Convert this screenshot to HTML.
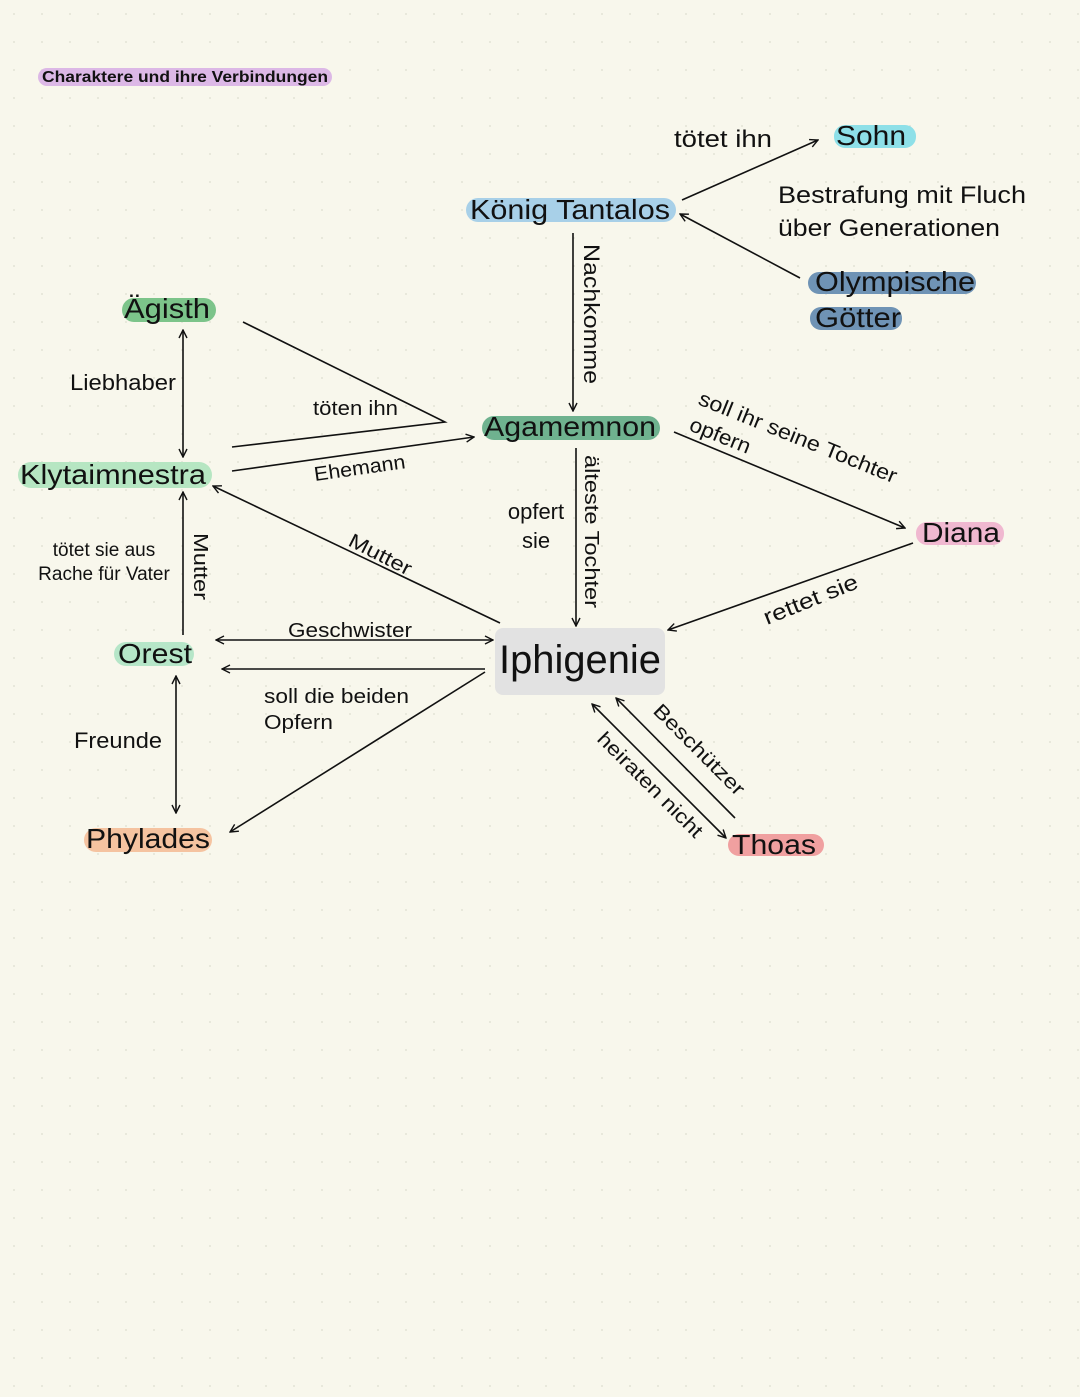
<!DOCTYPE html>
<html><head><meta charset="utf-8"><style>
html,body{margin:0;padding:0;background:#f8f7ec;}
svg{display:block;font-family:"Liberation Sans",Arial,sans-serif;}
</style></head><body>
<svg width="1080" height="1397" viewBox="0 0 1080 1397" xmlns="http://www.w3.org/2000/svg">
<defs>
<pattern id="dots" width="28" height="28" patternUnits="userSpaceOnUse"><circle cx="14" cy="14" r="0.9" fill="#dcdccf"/></pattern>
<marker id="a" viewBox="0 0 10 10" refX="9" refY="5" markerWidth="10" markerHeight="10" markerUnits="userSpaceOnUse" orient="auto-start-reverse"><path d="M1,1 L9,5 L1,9" fill="none" stroke="#111" stroke-width="1.4"/></marker>
</defs>
<rect width="1080" height="1397" fill="#f8f7ec"/>
<rect width="1080" height="1397" fill="url(#dots)"/>

<!-- highlights -->
<g>
<rect x="38" y="68" width="294" height="18" rx="9" fill="#dcb8e6"/>
<rect x="834" y="125" width="82" height="23" rx="11" fill="#8ee0e8"/>
<rect x="466" y="198" width="210" height="24" rx="12" fill="#a8d0e8"/>
<rect x="808" y="272" width="168" height="22" rx="11" fill="#6f93b5"/>
<rect x="810" y="307" width="92" height="23" rx="11" fill="#6f93b5"/>
<rect x="122" y="298" width="94" height="24" rx="12" fill="#7cc48a"/>
<rect x="482" y="416" width="178" height="24" rx="12" fill="#6fb28f"/>
<rect x="18" y="462" width="194" height="26" rx="13" fill="#b6e6c2"/>
<rect x="916" y="522" width="88" height="23" rx="11" fill="#f0b8d0"/>
<rect x="114" y="642" width="80" height="24" rx="12" fill="#b6e6c8"/>
<rect x="84" y="828" width="128" height="24" rx="12" fill="#f5c3a0"/>
<rect x="728" y="834" width="96" height="22" rx="11" fill="#f0a0a0"/>
<rect x="495" y="628" width="170" height="67" rx="8" fill="#e2e2e2"/>
</g>

<!-- lines -->
<g stroke="#111" stroke-width="1.6" fill="none">
<line x1="682" y1="200" x2="818" y2="140" marker-end="url(#a)"/>
<line x1="800" y1="278" x2="680" y2="214" marker-end="url(#a)"/>
<line x1="573" y1="233" x2="573" y2="411" marker-end="url(#a)"/>
<polyline points="243,322 445,422 232,447"/>
<line x1="232" y1="471" x2="474" y2="437" marker-end="url(#a)"/>
<line x1="183" y1="330" x2="183" y2="457" marker-start="url(#a)" marker-end="url(#a)"/>
<line x1="674" y1="432" x2="905" y2="528" marker-end="url(#a)"/>
<line x1="913" y1="543" x2="668" y2="630" marker-end="url(#a)"/>
<line x1="576" y1="448" x2="576" y2="626" marker-end="url(#a)"/>
<line x1="500" y1="623" x2="213" y2="486" marker-end="url(#a)"/>
<line x1="183" y1="635" x2="183" y2="492" marker-end="url(#a)"/>
<line x1="216" y1="640" x2="493" y2="640" marker-start="url(#a)" marker-end="url(#a)"/>
<line x1="485" y1="669" x2="222" y2="669" marker-end="url(#a)"/>
<line x1="485" y1="672" x2="230" y2="832" marker-end="url(#a)"/>
<line x1="176" y1="676" x2="176" y2="813" marker-start="url(#a)" marker-end="url(#a)"/>
<line x1="735" y1="818" x2="616" y2="698" marker-end="url(#a)"/>
<line x1="592" y1="704" x2="726" y2="838" marker-start="url(#a)" marker-end="url(#a)"/>
</g>

<!-- text -->
<g fill="#111">
<text x="42" y="82" font-size="16" font-weight="bold" textLength="286" lengthAdjust="spacingAndGlyphs">Charaktere und ihre Verbindungen</text>
<text x="836" y="145" font-size="28" textLength="70" lengthAdjust="spacingAndGlyphs">Sohn</text>
<text x="674" y="147" font-size="24" textLength="98" lengthAdjust="spacingAndGlyphs">tötet ihn</text>
<text x="778" y="203" font-size="24" textLength="248" lengthAdjust="spacingAndGlyphs">Bestrafung mit Fluch</text>
<text x="778" y="236" font-size="24" textLength="222" lengthAdjust="spacingAndGlyphs">über Generationen</text>
<text x="470" y="219" font-size="28" textLength="200" lengthAdjust="spacingAndGlyphs">König Tantalos</text>
<text x="815" y="291" font-size="28" textLength="160" lengthAdjust="spacingAndGlyphs">Olympische</text>
<text x="815" y="327" font-size="28" textLength="86" lengthAdjust="spacingAndGlyphs">Götter</text>
<text x="124" y="318" font-size="28" textLength="86" lengthAdjust="spacingAndGlyphs">Ägisth</text>
<text x="70" y="390" font-size="22" textLength="106" lengthAdjust="spacingAndGlyphs">Liebhaber</text>
<text x="313" y="415" font-size="20" textLength="85" lengthAdjust="spacingAndGlyphs">töten ihn</text>
<text x="315" y="481" font-size="20" transform="rotate(-8 315 481)" textLength="92" lengthAdjust="spacingAndGlyphs">Ehemann</text>
<text x="484" y="436" font-size="28" textLength="172" lengthAdjust="spacingAndGlyphs">Agamemnon</text>
<text x="20" y="484" font-size="28" textLength="186" lengthAdjust="spacingAndGlyphs">Klytaimnestra</text>
<text x="584" y="244" font-size="22" transform="rotate(90 584 244)" textLength="140" lengthAdjust="spacingAndGlyphs">Nachkomme</text>
<text x="585" y="455" font-size="20" transform="rotate(90 585 455)" textLength="153" lengthAdjust="spacingAndGlyphs">älteste Tochter</text>
<text x="536" y="519" font-size="22" text-anchor="middle">opfert</text>
<text x="536" y="548" font-size="22" text-anchor="middle">sie</text>
<text x="697" y="404" font-size="21" transform="rotate(22 697 404)" textLength="212" lengthAdjust="spacingAndGlyphs">soll ihr seine Tochter</text>
<text x="688" y="430" font-size="21" transform="rotate(22 688 430)" textLength="64" lengthAdjust="spacingAndGlyphs">opfern</text>
<text x="922" y="542" font-size="28" textLength="78" lengthAdjust="spacingAndGlyphs">Diana</text>
<text x="767" y="625" font-size="22" transform="rotate(-22 767 625)" textLength="100" lengthAdjust="spacingAndGlyphs">rettet sie</text>
<text x="347" y="545" font-size="20" transform="rotate(27 347 545)" textLength="68" lengthAdjust="spacingAndGlyphs">Mutter</text>
<text x="104" y="556" font-size="19" text-anchor="middle">tötet sie aus</text>
<text x="104" y="580" font-size="19" text-anchor="middle">Rache für Vater</text>
<text x="194" y="533" font-size="20" transform="rotate(90 194 533)" textLength="67" lengthAdjust="spacingAndGlyphs">Mutter</text>
<text x="118" y="663" font-size="28" textLength="74" lengthAdjust="spacingAndGlyphs">Orest</text>
<text x="288" y="637" font-size="20" textLength="124" lengthAdjust="spacingAndGlyphs">Geschwister</text>
<text x="499" y="673" font-size="40" textLength="162" lengthAdjust="spacingAndGlyphs">Iphigenie</text>
<text x="264" y="703" font-size="20" textLength="145" lengthAdjust="spacingAndGlyphs">soll die beiden</text>
<text x="264" y="729" font-size="20" textLength="69" lengthAdjust="spacingAndGlyphs">Opfern</text>
<text x="74" y="748" font-size="22" textLength="88" lengthAdjust="spacingAndGlyphs">Freunde</text>
<text x="86" y="848" font-size="28" textLength="124" lengthAdjust="spacingAndGlyphs">Phylades</text>
<text x="652" y="712" font-size="20" transform="rotate(45 652 712)" textLength="120" lengthAdjust="spacingAndGlyphs">Beschützer</text>
<text x="596" y="740" font-size="20" transform="rotate(45 596 740)" textLength="140" lengthAdjust="spacingAndGlyphs">heiraten nicht</text>
<text x="732" y="854" font-size="28" textLength="84" lengthAdjust="spacingAndGlyphs">Thoas</text>
</g>
</svg>
</body></html>
